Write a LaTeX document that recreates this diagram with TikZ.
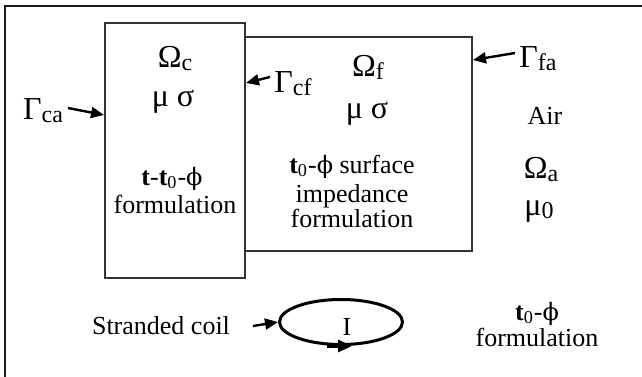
\documentclass[tikz,border=0pt]{standalone}
\usepackage{fontspec}
\setmainfont{Liberation Serif}
\newfontfamily\phifont{DejaVu Serif}
\usetikzlibrary{arrows.meta,shapes.geometric}
\newcommand\gk[1]{{\fontsize{16}{16}\selectfont #1}}
\newcommand\gsub[1]{{\fontsize{12}{12}\selectfont\raisebox{-1.5pt}{#1}}}
\newcommand\ph{{\phifont\fontsize{12}{12}\selectfont ϕ}}
\begin{document}
\begin{tikzpicture}[x=0.5pt,y=-0.5pt,
  txt/.style={inner sep=0pt, outer sep=0pt, anchor=base, font=\fontsize{13}{14}\selectfont},
  boxr/.style={draw=black!80, line width=1pt, inner sep=0pt, outer sep=0pt},
  arr/.style={line width=1.2pt, -{Triangle[length=6.5pt,width=5.5pt]}},
  ]
\useasboundingbox (0,0) rectangle (642,376);
% outer frame (right and bottom edges lie outside the picture)
\draw[black!90, line width=1pt] (5,380) -- (5,6) -- (646,6);
% boxes
\node[boxr, minimum width=114pt, minimum height=107pt] (boxf) at (358,144) {};
\node[boxr, minimum width=70pt, minimum height=127.5pt, fill=white] (boxc) at (175,150.5) {};
% box c texts
\node[txt] (omc) at (175,67) {\gk{Ω}\gsub{c}};
\node[txt] (musc) at (173,106) {\gk{μ σ}};
\node[txt] (ttc) at (172,185) {\textbf{t}-\textbf{t}\textsubscript{0}-\ph};
\node[txt] (formc) at (175,213) {formulation};
% box f texts
\node[txt] (omf) at (368,76) {\gk{Ω}\gsub{f}};
\node[txt] (musf) at (367,118) {\gk{μ σ}};
\node[txt] (ttf) at (352,173) {\textbf{t}\textsubscript{0}-\ph\ surface};
\node[txt] (impf) at (352,202) {impedance};
\node[txt] (formf) at (352,227) {formulation};
% air
\node[txt] (air) at (545,124) {Air};
\node[txt] (oma) at (541,178) {\gk{Ω}\gsub{a}};
\node[txt] (mua) at (539,215) {\gk{μ}\gsub{0}};
% boundaries
\node[txt] (gca) at (43,119) {\gk{Γ}\gsub{ca}};
\node[txt] (gcf) at (293,92) {\gk{Γ}\gsub{cf}};
\node[txt] (gfa) at (538,67) {\gk{Γ}\gsub{fa}};
\coordinate (gca1) at (68,108);
\coordinate (gca2) at (104,115);
\coordinate (gcf1) at (270,77);
\coordinate (gcf2) at (246,83);
\coordinate (gfa1) at (515,53);
\coordinate (gfa2) at (473,60);
\draw[arr] (gca1) -- (gca2);
\draw[arr] (gcf1) -- (gcf2);
\draw[arr] (gfa1) -- (gfa2);
% coil
\node[txt] (sc) at (161,334) {Stranded coil};
\node[ellipse, draw, line width=1.5pt, minimum width=61.5pt, minimum height=22.5pt, inner sep=0pt] (coil) at (341,322) {};
\node[txt] (ci) at (347,335) {I};
\coordinate (sc1) at (253,326);
\draw[arr] (sc1) -- (coil.west);
\draw[line width=1.5pt, -{Triangle[length=7pt,width=6pt]}] ([xshift=-7pt]coil.south) -- ([xshift=5.5pt]coil.south);
% outer formulation
\node[txt] (tta) at (537,320) {\textbf{t}\textsubscript{0}-\ph};
\node[txt] (forma) at (537,346) {formulation};
\end{tikzpicture}
\end{document}
